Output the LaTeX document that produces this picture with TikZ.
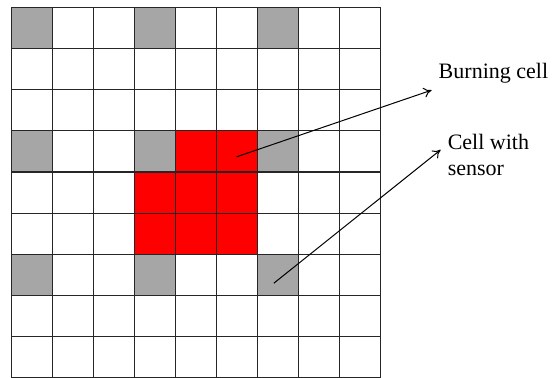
\documentclass[tikz,border=0pt]{standalone}
\usepackage{fontspec}
\setmainfont{Liberation Serif}
\usetikzlibrary{arrows.meta}

\tikzset{
  gridline/.style={black!85,line width=0.6pt},
  sensorcell/.style={fill=black!35},
  burncell/.style={fill=red},
  pointer/.style={->,line width=0.5pt},
  lbl/.style={font=\fontsize{11}{13}\selectfont,align=left}
}

\begin{document}
\begin{tikzpicture}[x=0.72cm,y=0.723cm,>={To[length=4pt,width=5pt]}]
  \useasboundingbox (-0.28,0) rectangle (13.21,9.18);
  % cells with a sensor
  \foreach \x in {0,3,6}
    \foreach \y in {2,5,8}
      \fill[sensorcell] (\x,\y) rectangle +(1,1);
  % burning area
  \fill[burncell] (4,5) rectangle (6,6);
  \fill[burncell] (3,3) rectangle (6,5);
  \draw[gridline,step=1] (0,0) grid (9,9);

  \coordinate (burnpt) at (5.49,5.37);
  \coordinate (sensorpt) at (6.4,2.3);
  \node[lbl,anchor=south west] (burnlbl) at (10.25,6.99) {Burning cell};
  \node[lbl,anchor=west] (sensorlbl) at (10.47,5.42) {Cell with\\sensor};
  \draw[pointer] (burnpt) -- (burnlbl.south west);
  \draw[pointer] (sensorpt) -- ([yshift=2.5pt]sensorlbl.west);
\end{tikzpicture}
\end{document}
